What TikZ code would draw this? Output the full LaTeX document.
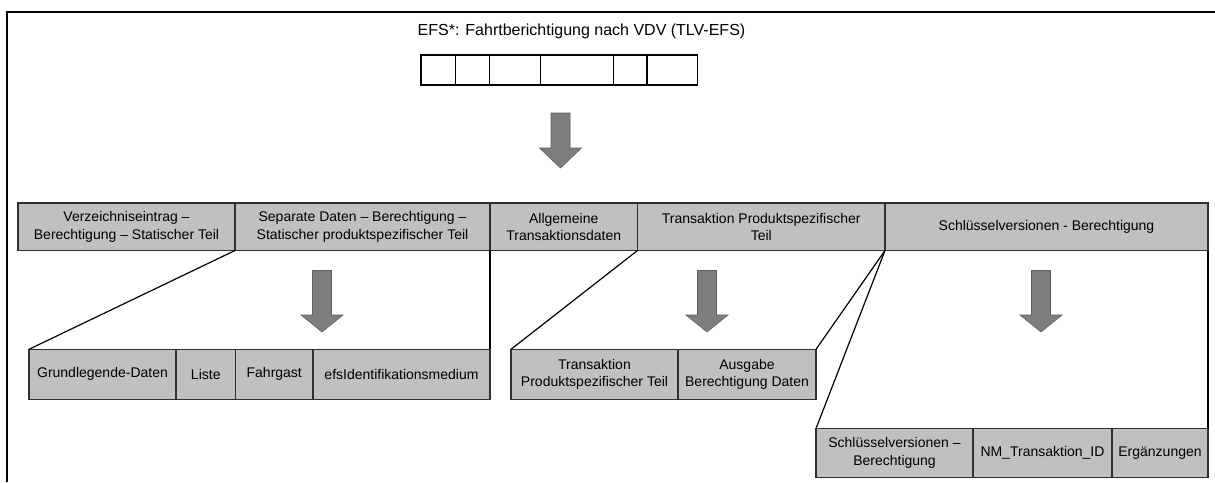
\documentclass[tikz,border=0pt]{standalone}
\usepackage{fontspec}
\setmainfont{Liberation Sans}
\definecolor{cellgray}{HTML}{C0C0C0}
\definecolor{cellline}{HTML}{303030}
\definecolor{arrowfill}{HTML}{7E7E7E}
\definecolor{arrowline}{HTML}{5E5E5E}
\begin{document}
\begin{tikzpicture}[x=1pt,y=-1pt,
  cell/.style={draw=cellline,fill=cellgray,line width=1.1pt,inner sep=0pt,outer sep=0pt,
    align=center,font=\fontsize{14}{17.5}\selectfont,minimum height=#1},
  cell/.default=47.5pt,
  slot/.style={draw=black,fill=white,line width=1.1pt,inner sep=0pt,outer sep=0pt,minimum height=30pt},
  link/.style={draw=black,line width=1.2pt},
  frame/.style={draw=black,line width=2.6pt},
  bigarrow/.style={fill=arrowfill,draw=arrowline,line width=0.6pt}]
\useasboundingbox (0,0) rectangle (1215,482);
% frame
\draw[frame] (7,482) -- (7,12) -- (1215,12);
% title
\node[font=\fontsize{16}{19}\selectfont,inner sep=0pt] (title) at (581.5,31) {EFS*: Fahrtberichtigung nach VDV (TLV-EFS)};
% top slots
\node[slot,minimum width=34.3pt] (s1) at (438.15,70) {};
\node[slot,minimum width=34pt] (s2) at (472.3,70) {};
\node[slot,minimum width=51pt] (s3) at (514.8,70) {};
\node[slot,minimum width=73pt] (s4) at (576.8,70) {};
\node[slot,minimum width=33.7pt] (s5) at (630.15,70) {};
\node[slot,minimum width=50.3pt] (s6) at (672.15,70) {};
% middle row
\node[cell,minimum width=217pt] (m1) at (126.5,226.75) {Verzeichniseintrag –\\Berechtigung – Statischer Teil};
\node[cell,minimum width=255pt] (m2) at (362.5,226.75) {Separate Daten – Berechtigung –\\Statischer produktspezifischer Teil};
\node[cell,minimum width=147.5pt] (m3) at (563.75,226.75) {Allgemeine\\Transaktionsdaten};
\node[cell,minimum width=247.5pt] (m4) at (761.25,226.75) {Transaktion Produktspezifischer\\Teil};
\node[cell,minimum width=323pt] (m5) at (1046.5,226.75) {Schlüsselversionen - Berechtigung};
% row A
\node[cell=50pt,minimum width=147pt] (a1) at (102.5,374.3) {Grundlegende-Daten};
\node[cell=50pt,minimum width=59.5pt] (a2) at (205.75,374.3) {Liste};
\node[cell=50pt,minimum width=77.5pt] (a3) at (274.25,374.3) {Fahrgast};
\node[cell=50pt,minimum width=177pt] (a4) at (401.5,374.3) {efsIdentifikationsmedium};
% row B
\node[cell=50pt,minimum width=167pt] (b1) at (594.5,374.3) {Transaktion\\Produktspezifischer Teil};
\node[cell=50pt,minimum width=138pt] (b2) at (747,374.3) {Ausgabe\\Berechtigung Daten};
% row C
\node[cell=49pt,minimum width=157pt] (c1) at (894.5,453) {Schlüsselversionen –\\Berechtigung};
\node[cell=49pt,minimum width=139pt] (c2) at (1042.5,453) {NM\_Transaktion\_ID};
\node[cell=49pt,minimum width=96pt] (c3) at (1160,453) {Ergänzungen};
% connectors
\draw[link] (m1.south east) -- (a1.north west);
\draw[link] (m2.south east) -- (a4.north east);
\draw[link] (m3.south east) -- (b1.north west);
\draw[link] (m4.south east) -- (b2.north east);
\draw[link] (m4.south east) -- (c1.north west);
\draw[link] (m5.south east) -- (c3.north east);
% big arrows
\newcommand\dnarrow[4]{%
  \draw[bigarrow] (#1-9.5,#2) -- (#1+9.5,#2) -- (#1+9.5,#3) -- (#1+21,#3) -- (#1,#4) -- (#1-21,#3) -- (#1-9.5,#3) -- cycle;}
\dnarrow{560.5}{113}{148}{168}
\dnarrow{322}{270.5}{315}{332}
\dnarrow{707}{270.5}{315}{332}
\dnarrow{1041}{270.5}{315}{332}
\end{tikzpicture}
\end{document}
